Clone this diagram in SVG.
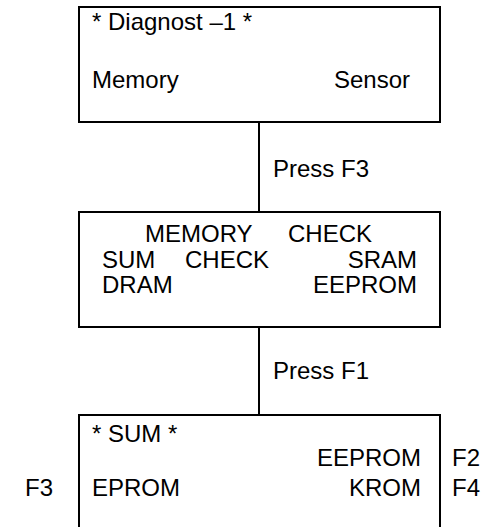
<svg xmlns="http://www.w3.org/2000/svg" width="483" height="527" viewBox="0 0 483 527">
<style>
.box{fill:#fff;stroke:#000;stroke-width:2}
.ln{stroke:#000;stroke-width:2;fill:none}
text{font-family:"Liberation Sans",Arial,sans-serif;font-size:24px;fill:#000}
.r{text-anchor:end}
</style>
<rect width="483" height="527" fill="#fff"/>
<g id="connectors">
<line class="ln" x1="259" y1="122" x2="259" y2="212"/>
<line class="ln" x1="259" y1="327" x2="259" y2="415"/>
<text x="273" y="177">Press F3</text>
<text x="273" y="379">Press F1</text>
</g>
<g id="diagnost">
<rect class="box" x="79" y="7" width="361" height="115"/>
<text x="92" y="30">* Diagnost –1 *</text>
<text x="92" y="88">Memory</text>
<text class="r" x="410" y="88">Sensor</text>
</g>
<g id="memory-check">
<rect class="box" x="79" y="212" width="361" height="115"/>
<text x="145" y="242">MEMORY</text>
<text x="288" y="242">CHECK</text>
<text x="102" y="268">SUM</text>
<text x="185" y="268">CHECK</text>
<text class="r" x="417" y="268">SRAM</text>
<text x="102" y="293">DRAM</text>
<text class="r" x="417" y="293">EEPROM</text>
</g>
<g id="sum">
<rect class="box" x="79" y="415" width="361" height="130"/>
<text x="92" y="442">* SUM *</text>
<text class="r" x="421" y="466">EEPROM</text>
<text x="92" y="496">EPROM</text>
<text class="r" x="421" y="496">KROM</text>
<text x="452" y="466">F2</text>
<text x="452" y="496">F4</text>
<text x="25" y="496">F3</text>
</g>
</svg>
